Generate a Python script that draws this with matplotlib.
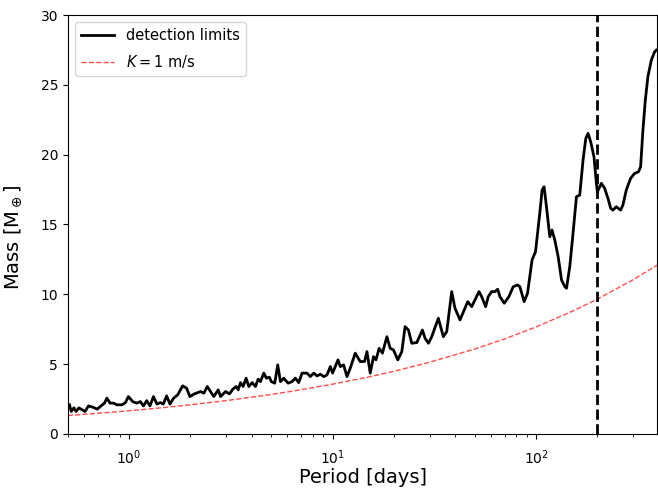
import matplotlib
matplotlib.use("Agg")
import matplotlib.pyplot as plt

# detection limits (period in days, mass in Earth masses)
period = [0.510, 0.520, 0.536, 0.550, 0.567, 0.588, 0.608, 0.632, 0.664, 0.697,
          0.729, 0.757, 0.778, 0.807, 0.839, 0.871, 0.924, 0.960, 0.993, 1.042,
          1.091, 1.137, 1.177, 1.221, 1.267, 1.318, 1.371, 1.426, 1.474, 1.530,
          1.589, 1.656, 1.733, 1.834, 1.917, 1.990, 2.092, 2.246, 2.332, 2.423,
          2.514, 2.609, 2.742, 2.816, 2.978, 3.116, 3.235, 3.361, 3.437, 3.528,
          3.636, 3.760, 3.874, 4.025, 4.179, 4.309, 4.423, 4.590, 4.731, 4.892,
          5.002, 5.197, 5.376, 5.544, 5.753, 6.046, 6.323, 6.561, 6.815, 7.079,
          7.490, 7.777, 8.075, 8.386, 8.707, 9.037, 9.388, 9.747, 10.0, 10.63,
          10.91, 11.32, 11.77, 12.21, 12.92, 13.67, 14.35, 14.75, 15.31, 15.89,
          16.33, 16.94, 17.58, 18.48, 19.18, 19.91, 20.92, 21.88, 22.71, 23.58,
          24.49, 25.93, 27.62, 28.47, 29.57, 30.70, 33.08, 35.01, 36.37, 38.48,
          39.93, 42.27, 46.11, 48.24, 50.47, 52.39, 54.01, 56.48, 58.18, 60.41,
          62.77, 64.71, 66.41, 69.70, 73.49, 77.15, 81.08, 83.18, 87.33, 90.73,
          95.50, 99.31, 104.2, 107.0, 109.4, 112.4, 116.7, 119.7, 123.5, 128.3,
          133.3, 138.4, 141.0, 146.3, 151.8, 157.8, 163.8, 170.0, 175.4, 179.9,
          185.4, 192.4, 197.7, 199.9, 209.2, 217.1, 225.4, 232.4, 238.4, 247.6,
          260.0, 266.9, 277.3, 291.1, 304.7, 318.6, 326.0, 334.7, 343.9, 354.0,
          368.0, 382.0, 389.2]
mass = [2.08, 1.60, 1.86, 1.60, 1.86, 1.72, 1.60, 2.00, 1.91, 1.77,
        2.00, 2.20, 2.56, 2.20, 2.20, 2.08, 2.08, 2.24, 2.67, 2.31,
        2.20, 2.31, 2.00, 2.38, 2.00, 2.67, 2.13, 2.24, 2.13, 2.72,
        2.13, 2.56, 2.79, 3.44, 3.27, 2.67, 2.86, 3.03, 2.91, 3.39,
        3.03, 2.67, 3.15, 2.67, 3.03, 2.86, 3.20, 3.39, 3.15, 3.67,
        3.39, 3.99, 3.39, 3.67, 3.39, 3.92, 3.74, 4.35, 3.99, 4.06,
        3.74, 3.63, 4.94, 3.74, 3.99, 3.63, 3.74, 3.99, 3.67, 4.35,
        4.35, 4.10, 4.35, 4.15, 4.27, 4.10, 4.22, 4.82, 4.35, 5.30,
        4.82, 4.94, 4.10, 4.70, 5.78, 5.18, 5.18, 5.89, 4.35, 5.53,
        5.30, 6.13, 5.78, 6.96, 6.13, 6.01, 5.30, 5.89, 7.68, 7.44,
        6.49, 6.54, 7.44, 6.85, 6.49, 6.96, 8.28, 6.96, 7.32, 10.19,
        9.00, 8.16, 9.47, 9.11, 9.71, 10.19, 9.83, 9.11, 9.83, 10.19,
        10.19, 10.36, 9.83, 9.36, 9.83, 10.54, 10.67, 10.54, 9.47, 10.07,
        12.46, 13.05, 15.80, 17.47, 17.70, 16.27, 14.12, 14.60, 13.89, 12.69,
        11.02, 10.54, 10.43, 11.98, 14.37, 16.99, 17.11, 19.61, 21.17, 21.53,
        20.92, 19.85, 17.95, 17.34, 17.95, 17.59, 16.87, 16.16, 16.03, 16.27,
        16.03, 16.39, 17.47, 18.30, 18.66, 18.78, 19.13, 21.76, 23.91, 25.58,
        26.77, 27.37, 27.49]

# K = 1 m/s curve
k_period = [0.5, 0.7, 1, 1.5, 2, 3, 5, 7, 10, 15, 20, 30, 50, 70, 100, 150, 200, 300, 395]
k_mass = [1.31, 1.47, 1.65, 1.89, 2.08, 2.38, 2.82, 3.16, 3.56, 4.07, 4.48, 5.13,
          6.08, 6.80, 7.66, 8.77, 9.65, 11.05, 12.10]

p_mark = 200

fig = plt.figure(figsize=(6.58, 4.88), dpi=100)
ax = fig.add_axes([0.103, 0.111, 0.896, 0.858])

ax.plot(period, mass, color="k", lw=2, label="detection limits")
ax.plot(k_period, k_mass, color="r", ls="--", lw=1, alpha=0.7, label="$K = 1$ m/s")
ax.axvline(p_mark, color="k", ls="--", lw=2)

ax.set_xscale("log")
ax.set_xlim(0.5, 394)
ax.set_ylim(0, 30)
ax.tick_params(labelsize=10)
ax.tick_params(axis="x", which="major", pad=7)
ax.set_xlabel("Period [days]", fontsize=14, labelpad=1)
ax.set_ylabel(r"Mass [M$_\oplus$]", fontsize=14)
ax.yaxis.set_label_coords(-0.075, 0.47)
ax.legend(loc="upper left", fontsize=10.5, labelspacing=0.7, handlelength=2.3)

plt.savefig("out.png", dpi=100)
plt.close()
